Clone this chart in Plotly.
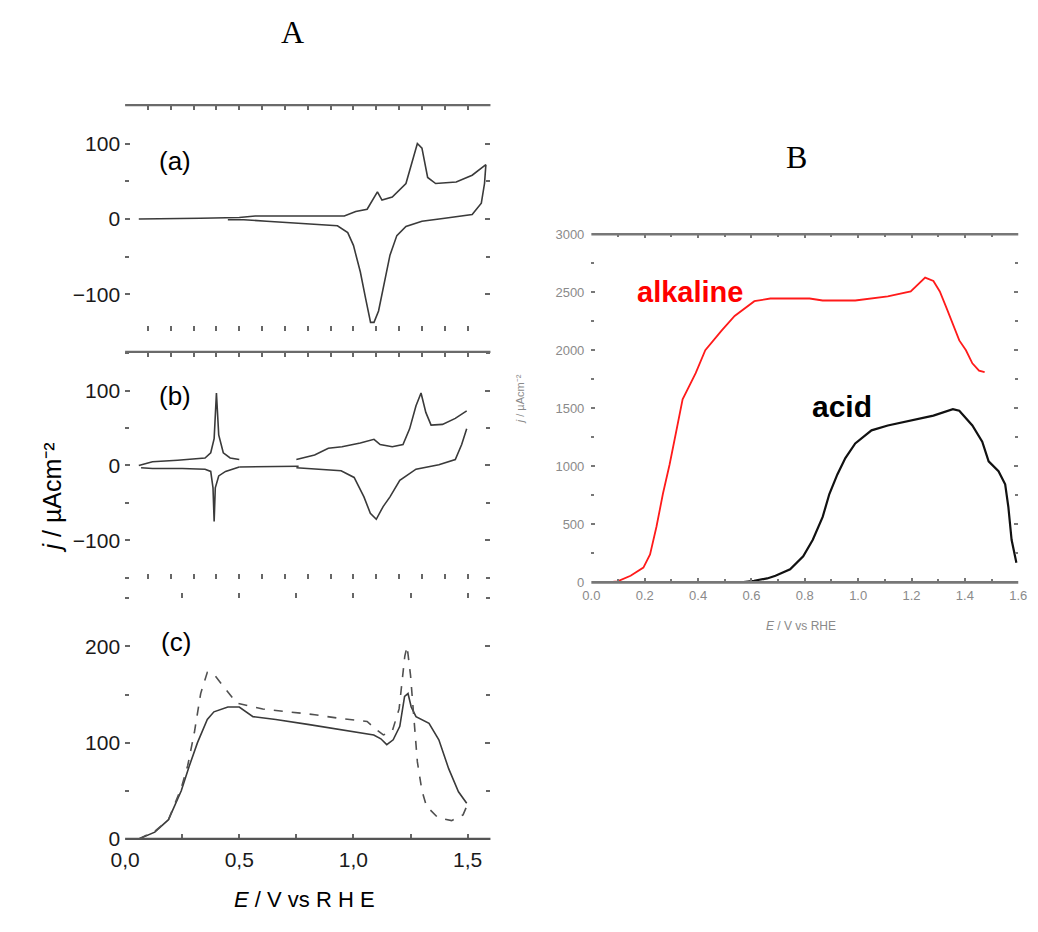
import plotly.graph_objects as go

W, H = 1038, 932

# ---------------- Panel A (a) ----------------
a_E_fwd = [0.06, 0.20, 0.33, 0.50, 0.57, 0.96, 1.01, 1.06, 1.09, 1.105, 1.125, 1.17, 1.23, 1.26, 1.28, 1.30, 1.325, 1.36, 1.45, 1.52, 1.58]
a_j_fwd = [0, 0, 1, 2, 4, 4, 10, 13, 29, 36, 25, 29, 47, 77, 100, 94, 55, 47, 49, 58, 72]
a_E_rev = [1.58, 1.574, 1.56, 1.52, 1.40, 1.30, 1.23, 1.19, 1.16, 1.13, 1.11, 1.09, 1.075, 1.053, 1.03, 1.00, 0.975, 0.93, 0.75, 0.62, 0.52, 0.45]
a_j_rev = [72, 47, 21, 6, 1, -3, -10, -22, -48, -92, -122, -137, -137, -105, -70, -35, -18, -9, -5, -3, -1, -1]

# ---------------- Panel A (b) ----------------
b_E_left_up = [0.06, 0.12, 0.23, 0.35, 0.375, 0.39, 0.40, 0.41, 0.43, 0.46, 0.50]
b_j_left_up = [0, 5, 7, 10, 17, 36, 97, 41, 17, 10, 8]
b_E_left_dn = [0.07, 0.12, 0.25, 0.35, 0.375, 0.385, 0.39, 0.395, 0.41, 0.44, 0.50]
b_j_left_dn = [-3, -4, -4, -5, -8, -30, -75, -30, -14, -8, -2]
b_E_mid = [0.50, 0.76]
b_j_mid = [-2, -1]
b_E_right_up = [0.75, 0.83, 0.89, 0.95, 1.03, 1.09, 1.117, 1.17, 1.217, 1.246, 1.274, 1.296, 1.317, 1.34, 1.39, 1.446, 1.496]
b_j_right_up = [8, 14, 23, 25, 30, 35, 28, 25, 28, 49, 80, 97, 71, 54, 55, 63, 73]
b_E_right_dn = [1.496, 1.474, 1.446, 1.374, 1.274, 1.203, 1.16, 1.13, 1.10, 1.074, 1.046, 1.003, 0.946, 0.83, 0.75]
b_j_right_dn = [49, 28, 8, 1, -5, -20, -42, -55, -72, -64, -42, -16, -7, -5, -3]

# ---------------- Panel A (c) ----------------
c_E_solid = [0.06, 0.13, 0.19, 0.246, 0.28, 0.317, 0.36, 0.389, 0.45, 0.50, 0.56, 0.66, 0.80, 0.974, 1.089, 1.12, 1.146, 1.174, 1.203, 1.224, 1.239, 1.253, 1.274, 1.331, 1.374, 1.417, 1.46, 1.496]
c_j_solid = [0, 7, 20, 50, 75, 100, 124, 132, 137, 137, 127, 124, 119, 112, 108, 104, 98, 103, 117, 148, 151, 137, 127, 120, 103, 73, 49, 37]
c_E_dash = [0.06, 0.13, 0.19, 0.246, 0.274, 0.303, 0.331, 0.36, 0.389, 0.431, 0.489, 0.603, 0.717, 0.831, 0.946, 1.06, 1.103, 1.131, 1.17, 1.20, 1.225, 1.235, 1.25, 1.265, 1.28, 1.30, 1.32, 1.37, 1.43, 1.48, 1.50]
c_j_dash = [0, 8, 20, 53, 76, 110, 151, 173, 171, 158, 141, 135, 132, 129, 125, 122, 113, 108, 112, 135, 190, 200, 170, 120, 80, 50, 34, 22, 19, 25, 36]

# ---------------- Panel B ----------------
alk_E = [0.061, 0.098, 0.147, 0.195, 0.22, 0.244, 0.268, 0.293, 0.318, 0.342, 0.391, 0.427, 0.488, 0.537, 0.611, 0.671, 0.818, 0.867, 0.989, 1.111, 1.197, 1.221, 1.251, 1.282, 1.306, 1.331, 1.355, 1.379, 1.404, 1.428, 1.453, 1.474]
alk_j = [0, 8, 57, 127, 240, 479, 761, 1014, 1300, 1578, 1803, 2000, 2169, 2296, 2423, 2446, 2446, 2429, 2429, 2465, 2507, 2564, 2626, 2597, 2507, 2366, 2226, 2085, 2000, 1888, 1825, 1812]
acid_E = [0.45, 0.562, 0.61, 0.659, 0.69, 0.745, 0.794, 0.830, 0.867, 0.892, 0.922, 0.952, 0.989, 1.050, 1.111, 1.197, 1.282, 1.355, 1.379, 1.428, 1.465, 1.489, 1.526, 1.551, 1.563, 1.575, 1.593]
acid_j = [0, 0, 14, 34, 57, 113, 225, 367, 564, 761, 930, 1071, 1197, 1310, 1352, 1394, 1437, 1493, 1479, 1352, 1212, 1043, 958, 845, 648, 367, 169]

# tick values / labels
c_xtickvals = [0, 0.5, 1.0, 1.5]
c_xticktext = ["0,0", "0,5", "1,0", "1,5"]
c_xminor = [0.25, 0.75, 1.25]
ab_ytickvals = [-100, 0, 100]
ab_yticktext = ["\u2212100", "0", "100"]
ab_yminor = [-150, -50, 50, 150]
c_ytickvals = [0, 100, 200]
c_yticktext = ["0", "100", "200"]
c_yminor = [50, 150, 250]
B_xtickvals = [0, 0.2, 0.4, 0.6, 0.8, 1.0, 1.2, 1.4, 1.6]
B_xticktext = ["0.0", "0.2", "0.4", "0.6", "0.8", "1.0", "1.2", "1.4", "1.6"]
B_ytickvals = [0, 500, 1000, 1500, 2000, 2500, 3000]
B_yticktext = ["0", "500", "1000", "1500", "2000", "2500", "3000"]

LINE_A = "#3a3a3a"

fig = go.Figure()

def add(x, y, xa, ya, color=LINE_A, width=1.6, dash="solid"):
    fig.add_trace(go.Scatter(x=x, y=y, xaxis=xa, yaxis=ya, mode="lines",
                             line=dict(color=color, width=width, dash=dash),
                             showlegend=False, hoverinfo="skip"))

add(a_E_fwd, a_j_fwd, "x", "y")
add(a_E_rev, a_j_rev, "x", "y")
add(b_E_left_up, b_j_left_up, "x2", "y2")
add(b_E_left_dn, b_j_left_dn, "x2", "y2")
add(b_E_mid, b_j_mid, "x2", "y2")
add(b_E_right_up, b_j_right_up, "x2", "y2")
add(b_E_right_dn, b_j_right_dn, "x2", "y2")
add(c_E_solid, c_j_solid, "x3", "y3")
add(c_E_dash, c_j_dash, "x3", "y3", color="#505050", dash="dash")
add(alk_E, alk_j, "x4", "y4", color="#ff1a1a", width=1.8)
add(acid_E, acid_j, "x4", "y4", color="#111111", width=2.2)

def dx(p0, p1):
    return [p0 / W, p1 / W]

def dy(top, bottom):
    return [1 - bottom / H, 1 - top / H]

A_dom = dx(112.7, 486.7)
tickfontA = dict(family="Liberation Sans, Arial", size=21, color="#1a1a1a")
TICK = dict(ticks="inside", ticklen=5, tickwidth=1.5, tickcolor="#666")

def xA(anchor, **kw):
    d = dict(domain=A_dom, anchor=anchor, range=[0, 1.6], showgrid=False, zeroline=False,
             showline=False, mirror="ticks", tickfont=tickfontA, **TICK)
    d.update(kw)
    return d

def yA(anchor, domain, rng, tv, tt, mv):
    return dict(domain=domain, anchor=anchor, range=rng, showgrid=False, zeroline=False,
                showline=False, mirror="ticks", tickvals=tv, ticktext=tt, tickfont=tickfontA,
                minor=dict(tickvals=mv, ticks="inside", ticklen=4, tickwidth=1.5, tickcolor="#666"),
                ticklabelstandoff=4, **TICK)

tickfontB = dict(family="Liberation Sans, Arial", size=13, color="#8a8a8a")
TICKB = dict(ticks="inside", ticklen=4, tickwidth=1.5, tickcolor="#777")

fig.update_layout(
    width=W, height=H, margin=dict(l=0, r=0, t=0, b=0),
    paper_bgcolor="white", plot_bgcolor="white",
    xaxis=xA("y", dtick=0.1, tick0=0, showticklabels=False),
    yaxis=yA("x", dy(100, 330), [-148, 151], ab_ytickvals, ab_yticktext, ab_yminor),
    xaxis2=xA("y2", dtick=0.1, tick0=0, showticklabels=False),
    yaxis2=yA("x2", dy(351.7, 583.3), [-152, 152], ab_ytickvals, ab_yticktext, ab_yminor),
    xaxis3=xA("y3", tickvals=c_xtickvals, ticktext=c_xticktext, ticklabelstandoff=6,
              minor=dict(tickvals=c_xminor, ticks="inside", ticklen=5, tickwidth=1.5, tickcolor="#666")),
    yaxis3=yA("x3", dy(598, 848.3), [0, 255], c_ytickvals, c_yticktext, c_yminor),
    xaxis4=dict(domain=dx(590, 1027), anchor="y4", range=[0, 1.6], showgrid=False, zeroline=False,
                showline=False, mirror="ticks", tickvals=B_xtickvals, ticktext=B_xticktext,
                tickfont=tickfontB, minor=dict(dtick=0.1, ticks="inside", ticklen=3, tickcolor="#777"),
                ticklabelstandoff=4, **TICKB),
    yaxis4=dict(domain=dy(231.7, 586.7), anchor="x4", range=[0, 3000], showgrid=False, zeroline=False,
                showline=False, mirror="ticks", tickvals=B_ytickvals, ticktext=B_yticktext,
                tickfont=tickfontB, minor=dict(dtick=250, ticks="inside", ticklen=3, tickcolor="#777"),
                ticklabelstandoff=6, **TICKB),
)

# axis lines that survive in the scan
shapes = []
for xr, yr, yv, col, wd in [("x domain", "y domain", 1, "#6a6a6a", 2.2),
                            ("x2 domain", "y2 domain", 1, "#6a6a6a", 2.2),
                            ("x3 domain", "y3 domain", 0, "#555555", 2.2),
                            ("x4 domain", "y4 domain", 1, "#777777", 2.6),
                            ("x4 domain", "y4 domain", 0, "#777777", 2.6)]:
    shapes.append(dict(type="line", xref=xr, yref=yr, x0=0, x1=1, y0=yv, y1=yv,
                       line=dict(color=col, width=wd)))
fig.update_layout(shapes=shapes)

def ann(text, px, py, size, color="black", family="Liberation Sans, Arial", angle=0):
    fig.add_annotation(text=text, x=px / W, y=1 - py / H, xref="paper", yref="paper",
                       showarrow=False, textangle=angle, xanchor="center", yanchor="middle",
                       font=dict(family=family, size=size, color=color))

ann("A", 284, 25, 32, family="Liberation Serif, Times New Roman")
ann("B", 800, 153, 32, family="Liberation Serif, Times New Roman")
ann("(a)", 164, 157, 26)
ann("(b)", 164, 397, 26)
ann("(c)", 165, 647, 26)
ann("<i>j</i> / \u00b5Acm\u207b\u00b2", 38, 500, 25, angle=-90)
ann("<i>E</i> / V vs R H E", 296, 910, 22)
ann("<i>j</i> / \u00b5Acm\u207b\u00b2", 517, 400, 11, color="#8a8a8a", angle=-90)
ann("<i>E</i> / V vs RHE", 805, 631, 12, color="#8a8a8a")
ann("<b>alkaline</b>", 691, 291, 29, color="#ff0000")
ann("<b>acid</b>", 847, 407, 30, color="black")

fig.write_html("out.html")
